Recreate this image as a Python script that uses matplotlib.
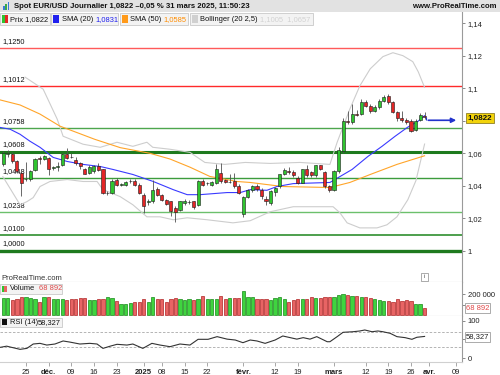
import numpy as np
import matplotlib.pyplot as plt
from matplotlib.patches import Rectangle

plt.rcParams['font.family'] = ['Liberation Sans', 'DejaVu Sans']

W, H = 500, 375

# daily candles EUR/USD, 18 nov. 2024 -> 31 mars 2025 (no candle on 25 dec. and 1 jan.)
opens = [1.0532, 1.0596, 1.0597, 1.0552, 1.0480, 1.0440, 1.0443, 1.0495, 1.0569, 1.0567,
         1.0573, 1.0507, 1.0518, 1.0526, 1.0594, 1.0580, 1.0560, 1.0538, 1.0505, 1.0480,
         1.0490, 1.0521, 1.0501, 1.0355, 1.0357, 1.0439, 1.0408, 1.0408, 1.0427, 1.0429,
         1.0408, 1.0346, 1.0300, 1.0305, 1.0382, 1.0346, 1.0315, 1.0305, 1.0266, 1.0254,
         1.0295, 1.0301, 1.0305, 1.0284, 1.0429, 1.0416, 1.0408, 1.0419, 1.0480, 1.0439,
         1.0421, 1.0429, 1.0402, 1.0229, 1.0332, 1.0377, 1.0402, 1.0377, 1.0320, 1.0295,
         1.0361, 1.0398, 1.0470, 1.0490, 1.0484, 1.0450, 1.0419, 1.0501, 1.0484, 1.0464,
         1.0526, 1.0484, 1.0398, 1.0377, 1.0490, 1.0614, 1.0798, 1.0790, 1.0841, 1.0841,
         1.0917, 1.0892, 1.0861, 1.0882, 1.0923, 1.0951, 1.0913, 1.0855, 1.0814, 1.0805,
         1.0800, 1.0744, 1.0806, 1.0828]
highs = [1.0612, 1.0620, 1.0610, 1.0560, 1.0490, 1.0544, 1.0495, 1.0570, 1.0585, 1.0590,
         1.0580, 1.0520, 1.0545, 1.0600, 1.0635, 1.0600, 1.0575, 1.0545, 1.0510, 1.0530,
         1.0530, 1.0540, 1.0505, 1.0370, 1.0445, 1.0450, 1.0420, 1.0430, 1.0445, 1.0440,
         1.0415, 1.0355, 1.0320, 1.0439, 1.0395, 1.0350, 1.0320, 1.0310, 1.0275, 1.0310,
         1.0320, 1.0315, 1.0310, 1.0435, 1.0440, 1.0425, 1.0430, 1.0532, 1.0542, 1.0445,
         1.0476, 1.0480, 1.0410, 1.0340, 1.0380, 1.0405, 1.0410, 1.0385, 1.0335, 1.0372,
         1.0395, 1.0475, 1.0510, 1.0515, 1.0500, 1.0460, 1.0505, 1.0530, 1.0490, 1.0530,
         1.0530, 1.0490, 1.0405, 1.0500, 1.0640, 1.0815, 1.0862, 1.0903, 1.0865, 1.0935,
         1.0929, 1.0900, 1.0895, 1.0935, 1.0959, 1.0965, 1.0920, 1.0860, 1.0860, 1.0815,
         1.0810, 1.0810, 1.0845, 1.0855]
lows = [1.0522, 1.0575, 1.0540, 1.0480, 1.0336, 1.0430, 1.0429, 1.0490, 1.0535, 1.0560,
        1.0464, 1.0500, 1.0490, 1.0520, 1.0565, 1.0570, 1.0530, 1.0505, 1.0470, 1.0475,
        1.0480, 1.0490, 1.0350, 1.0345, 1.0350, 1.0400, 1.0400, 1.0400, 1.0420, 1.0400,
        1.0350, 1.0233, 1.0285, 1.0295, 1.0340, 1.0305, 1.0285, 1.0216, 1.0181, 1.0245,
        1.0285, 1.0290, 1.0260, 1.0275, 1.0400, 1.0405, 1.0400, 1.0410, 1.0420, 1.0415,
        1.0415, 1.0390, 1.0350, 1.0208, 1.0325, 1.0365, 1.0370, 1.0320, 1.0284, 1.0285,
        1.0340, 1.0390, 1.0465, 1.0475, 1.0455, 1.0410, 1.0415, 1.0455, 1.0455, 1.0455,
        1.0495, 1.0390, 1.0360, 1.0370, 1.0480, 1.0605, 1.0779, 1.0780, 1.0830, 1.0835,
        1.0885, 1.0850, 1.0855, 1.0875, 1.0915, 1.0900, 1.0850, 1.0800, 1.0795, 1.0780,
        1.0730, 1.0735, 1.0800, 1.0810]
closes = [1.0604, 1.0600, 1.0552, 1.0490, 1.0419, 1.0445, 1.0490, 1.0567, 1.0565, 1.0583,
          1.0505, 1.0513, 1.0522, 1.0594, 1.0573, 1.0575, 1.0538, 1.0522, 1.0476, 1.0515,
          1.0521, 1.0496, 1.0357, 1.0359, 1.0429, 1.0408, 1.0410, 1.0425, 1.0430, 1.0408,
          1.0357, 1.0274, 1.0305, 1.0377, 1.0346, 1.0315, 1.0291, 1.0243, 1.0241, 1.0305,
          1.0309, 1.0303, 1.0270, 1.0429, 1.0408, 1.0420, 1.0424, 1.0501, 1.0429, 1.0423,
          1.0424, 1.0398, 1.0357, 1.0332, 1.0373, 1.0402, 1.0381, 1.0336, 1.0305, 1.0367,
          1.0388, 1.0470, 1.0497, 1.0486, 1.0464, 1.0419, 1.0501, 1.0464, 1.0464, 1.0526,
          1.0501, 1.0398, 1.0377, 1.0490, 1.0623, 1.0800, 1.0793, 1.0841, 1.0838, 1.0917,
          1.0892, 1.0861, 1.0882, 1.0923, 1.0944, 1.0913, 1.0855, 1.0814, 1.0804, 1.0790,
          1.0738, 1.0800, 1.0835, 1.0822]
# volume in thousands
volumes = [164, 164, 148, 157, 173, 173, 164, 157, 125, 173, 173, 154, 154, 154, 148, 157,
           154, 164, 164, 148, 148, 154, 157, 173, 164, 138, 110, 110, 122, 132, 132, 154,
           125, 173, 154, 154, 125, 154, 164, 154, 148, 154, 148, 157, 186, 157, 157, 157,
           186, 157, 164, 170, 164, 236, 173, 173, 157, 157, 157, 148, 164, 173, 154, 125,
           148, 157, 157, 157, 173, 164, 164, 173, 173, 173, 195, 205, 192, 186, 186, 179,
           173, 170, 154, 148, 138, 138, 125, 154, 138, 148, 141, 110, 110, 68.892]

# indicator lines (x = candle index)
sma20_x = [-0.7, 1.5, 3.7, 5.9, 8.1, 11.0, 14.1, 17.6, 21.4, 24.2, 28.6, 33.1, 37.5, 40.6, 43.4,
           49.4, 52.3, 54.5, 58.2, 60.4, 64.0, 72.1, 73.2, 77.0, 80.5, 83.6, 86.5, 89.3, 91.6, 93.0]
sma20_v = [1.0759, 1.0748, 1.0717, 1.0674, 1.0637, 1.0575, 1.0550, 1.0532, 1.0519, 1.0501,
           1.0470, 1.0427, 1.0377, 1.0346, 1.0346, 1.0359, 1.0359, 1.0377, 1.0373, 1.0396,
           1.0414, 1.0421, 1.0439, 1.0501, 1.0581, 1.0643, 1.0705, 1.0761, 1.0798, 1.0831]
sma50_x = [-0.7, 3.7, 8.1, 12.5, 20.2, 25.8, 32.4, 36.8, 41.2, 45.6, 51.6, 54.5, 61.7, 72.1,
           76.5, 81.0, 86.9, 93.0]
sma50_v = [1.0928, 1.0897, 1.0841, 1.0767, 1.0686, 1.0635, 1.0600, 1.0565, 1.0515, 1.0458,
           1.0427, 1.0421, 1.0396, 1.0390, 1.0421, 1.0470, 1.0532, 1.0585]
bb_up_x = [4.8, 8.8, 11.9, 13.2, 17.6, 21.4, 25.1, 28.6, 31.7, 33.0, 36.8, 41.2, 44.5, 48.9,
           53.4, 58.9, 65.5, 72.1, 73.7, 76.5, 78.7, 81.0, 83.8, 86.0, 88.2, 90.4, 91.6, 93.0]
bb_up_v = [1.1068, 1.0994, 1.0810, 1.0705, 1.0656, 1.0637, 1.0668, 1.0643, 1.0668, 1.0637,
           1.0625, 1.0606, 1.0544, 1.0532, 1.0544, 1.0538, 1.0544, 1.0532, 1.0668, 1.0872,
           1.1014, 1.1119, 1.1194, 1.1218, 1.1200, 1.1163, 1.1101, 1.1005]
bb_lo_x = [-0.1, 3.7, 5.2, 6.6, 8.1, 10.3, 14.1, 17.6, 20.7, 22.0, 25.8, 28.6, 31.7, 34.6,
           37.5, 40.6, 45.0, 50.7, 54.5, 58.9, 64.0, 72.8, 74.3, 75.9, 78.7, 82.5, 84.7, 86.9,
           89.3, 91.1, 93.0]
bb_lo_v = [1.0457, 1.0284, 1.0303, 1.0328, 1.0396, 1.0427, 1.0439, 1.0427, 1.0427, 1.0377,
           1.0334, 1.0284, 1.0210, 1.0210, 1.0192, 1.0204, 1.0192, 1.0173, 1.0186, 1.0241,
           1.0272, 1.0272, 1.0235, 1.0173, 1.0142, 1.0142, 1.0161, 1.0210, 1.0315, 1.0433, 1.0657]
rsi_x = [-0.7, 0.75, 2.1, 3.7, 5.2, 6.6, 8.1, 9.6, 11.4, 13.2, 14.7, 16.9, 19.1, 20.7, 22.0,
         23.6, 25.1, 27.3, 28.6, 30.8, 32.8, 34.6, 36.8, 39.0, 41.2, 43.0, 45.2, 47.2, 49.4,
         51.2, 52.9, 54.5, 56.0, 57.8, 60.0, 61.7, 64.8, 66.2, 67.7, 69.2, 71.5, 72.1, 73.7,
         75.0, 77.2, 78.7, 79.8, 81.4, 82.7, 83.8, 85.4, 86.9, 88.7, 90.2, 91.3, 93.0]
rsi_v = [28.8, 32, 28, 23.4, 26, 37.8, 39.6, 35, 37.8, 46, 43, 37.8, 39.6, 37.8, 26,
         32, 37, 35, 37.8, 26, 39.6, 35, 30.6, 37.8, 35, 50.5, 50.5, 57.7, 51,
         48.6, 41.4, 48.6, 46, 39.6, 48.6, 59.5, 51, 55, 51, 57.7, 44, 44, 57.7,
         69.4, 71, 73, 75.7, 71, 73, 71, 66.7, 57.7, 55, 50.5, 56, 58.3]

# support / resistance lines
levels = [1.1250, 1.1012, 1.0758, 1.0608, 1.0448, 1.0238, 1.0100, 1.0000]
level_labels = ['1,1250', '1,1012', '1,0758', '1,0608', '1,0448', '1,0238', '1,0100', '1,0000']
level_colors = ['#ff5a5a', '#ff2a2a', '#4da64d', '#1e7a1e', '#3c9c3c', '#6cc06c', '#2f8f2f', '#1e7a1e']
level_widths = [1.0, 1.0, 1.0, 2.2, 1.0, 1.0, 1.2, 2.4]

# right scale (labels hidden behind the last-value boxes are left blank)
price_ticks = [1.0, 1.02, 1.04, 1.06, 1.08, 1.1, 1.12, 1.14]
price_ticklabels = ['1', '1,02', '1,04', '1,06', '', '1,1', '1,12', '1,14']
vol_ticks = [100, 200]
vol_ticklabels = ['', '200 000']
rsi_ticks = [0, 50, 100]
rsi_ticklabels = ['0', '', '100']
date_pos = [5, 10, 15, 20, 25, 31, 35, 40, 45, 53, 60, 65, 73, 80, 85, 90, 94, 100]
date_labels = ['25', 'déc.', '09', '16', '23', '2025', '08', '15', '22', 'févr.', '12', '19',
               'mars', '12', '19', '26', 'avr.', '09']
bold_dates = ['déc.', '2025', 'févr.', 'mars', 'avr.']


def fx(x):
    return x / W


def fy(y):
    return 1 - y / H


def pbox(x0, y0, x1, y1):
    # pixel box (origin top-left) -> figure fraction
    return [x0 / W, 1 - y1 / H, (x1 - x0) / W, (y1 - y0) / H]


fig = plt.figure(figsize=(5, 3.75), dpi=100)


def frect(x0, y0, x1, y1, **kw):
    fig.add_artist(Rectangle((fx(x0), fy(y1)), (x1 - x0) / W, (y1 - y0) / H,
                             transform=fig.transFigure, **kw))


ax = fig.add_axes(pbox(0, 12, 462, 282))
axv = fig.add_axes(pbox(0, 282, 462, 316))
axr = fig.add_axes(pbox(0, 316, 462, 362))

xlim = (-0.73, 101.26)
for a in (ax, axv, axr):
    a.set_xlim(*xlim)
    a.set_facecolor('white')
    for s in ('top', 'left'):
        a.spines[s].set_visible(False)
    a.spines['right'].set_color('#9a9a9a')
    a.spines['bottom'].set_color('#b4b4b4')
    a.spines['right'].set_linewidth(0.8)
    a.spines['bottom'].set_linewidth(0.8)
    a.yaxis.tick_right()
    a.tick_params(axis='y', labelsize=5.5, length=2.5, width=0.6, color='#777777',
                  pad=1.5, labelcolor='#222222')
    a.tick_params(axis='x', bottom=False, labelbottom=False)

# ---- price panel
ax.set_ylim(0.98096, 1.14681)
ax.set_yticks(price_ticks)
ax.set_yticklabels(price_ticklabels)

for lv, lab, c, lw in zip(levels, level_labels, level_colors, level_widths):
    ax.axhline(lv, color=c, lw=lw, zorder=1)
    ax.annotate(lab, (-0.3, lv), xytext=(0, 1.6 + lw / 2), textcoords='offset points',
                fontsize=5.3, color='#111111', ha='left', va='bottom', zorder=2)

ax.plot(bb_up_x, bb_up_v, color='#cdcdcd', lw=0.8, zorder=2)
ax.plot(bb_lo_x, bb_lo_v, color='#cdcdcd', lw=0.8, zorder=2)
ax.plot(sma50_x, sma50_v, color='#ffa52a', lw=0.8, zorder=2)
ax.plot(sma20_x, sma20_v, color='#3a3aff', lw=0.8, zorder=2)

for i in range(len(closes)):
    o, h, l, c = opens[i], highs[i], lows[i], closes[i]
    up = c >= o
    ax.vlines(i, l, h, color='#505050', lw=0.6, zorder=3)
    lo = min(o, c)
    hgt = max(abs(c - o), 0.00025)
    ax.add_patch(Rectangle((i - 0.34, lo), 0.68, hgt,
                           facecolor='#2fc42f' if up else '#e32626',
                           edgecolor='#1a1a1a', lw=0.4, zorder=4))

ax.vlines(93.25, 1.0802, 1.0822, color='#2233cc', lw=0.8, zorder=5)
ax.annotate('', xy=(100.6, 1.0803), xytext=(93.2, 1.0803),
            arrowprops=dict(arrowstyle='-|>', color='#2233cc', lw=1.2, mutation_scale=7),
            annotation_clip=False, zorder=5)

# ---- volume panel
axv.set_ylim(-4.8, 319)
vcol = ['#3fd43f' if c >= o else '#e86464' for o, c in zip(opens, closes)]
vedge = ['#178a17' if c >= o else '#b02424' for o, c in zip(opens, closes)]
axv.bar(range(len(volumes)), volumes, width=0.72, color=vcol, edgecolor=vedge, lw=0.5, zorder=2)
axv.set_yticks(vol_ticks)
axv.set_yticklabels(vol_ticklabels)

# ---- RSI panel
axr.set_ylim(-10.8, 113.5)
axr.axhline(70, color='#a8a8a8', lw=0.6, ls=(0, (3, 2)), zorder=1)
axr.axhline(30, color='#a8a8a8', lw=0.6, ls=(0, (3, 2)), zorder=1)
axr.plot(rsi_x, rsi_v, color='#333333', lw=0.8, zorder=2)
axr.set_yticks(rsi_ticks)
axr.set_yticklabels(rsi_ticklabels)
axr.spines['bottom'].set_color('#d0d0d0')
axr.tick_params(axis='x', bottom=True, labelbottom=True, length=3, width=0.6,
                color='#999999', labelsize=5.5, pad=2, labelcolor='#222222')
axr.set_xticks(date_pos)
axr.set_xticklabels(date_labels)
for t in axr.get_xticklabels():
    if t.get_text() in bold_dates:
        t.set_fontweight('bold')

# ---- header bar
frect(0, 0, 500, 12, facecolor='#e2e2e2', edgecolor='none', zorder=5)
frect(0, 11.5, 500, 12.3, facecolor='#bdbdbd', edgecolor='none', zorder=5)
for j, (hh, cc) in enumerate([(4, '#3a7ad8'), (6, '#39a94a'), (8, '#3a7ad8')]):
    frect(3 + j * 2.4, 10 - hh, 4.6 + j * 2.4, 10, facecolor=cc, edgecolor='none', zorder=6)
fig.text(fx(14), fy(6.5), 'Spot EUR/USD Journalier 1,0822 \u20130,05 % 31 mars 2025, 11:50:23',
         fontsize=5.6, weight='bold', color='#111111', va='center', ha='left', zorder=7)
fig.text(fx(497), fy(6.5), 'www.ProRealTime.com', fontsize=5.6, weight='bold',
         color='#111111', va='center', ha='right', zorder=7)

# legend row
leg_boxes = [(0, 50), (51, 118), (120, 188), (190, 313)]
for x0, x1 in leg_boxes:
    frect(x0, 13, x1, 25, facecolor='#f3f3f3', edgecolor='#c9c9c9', lw=0.6, zorder=5)
frect(1.5, 15.5, 4.5, 22.5, facecolor='#2fc42f', edgecolor='none', zorder=6)
frect(4.5, 15.5, 7.5, 22.5, facecolor='#e32626', edgecolor='none', zorder=6)
frect(52.5, 15.5, 58.5, 22.5, facecolor='#2020ee', edgecolor='none', zorder=6)
frect(121.5, 15.5, 127.5, 22.5, facecolor='#ff9a1a', edgecolor='none', zorder=6)
frect(191.5, 15.5, 197.5, 22.5, facecolor='#d0d0d0', edgecolor='none', zorder=6)
leg_y = fy(19.3)
fig.text(fx(10), leg_y, 'Prix 1,0822', fontsize=5.4, color='#111111', va='center', zorder=7)
fig.text(fx(61.5), leg_y, 'SMA (20)', fontsize=5.4, color='#111111', va='center', zorder=7)
fig.text(fx(95), leg_y, '1,0831', fontsize=5.4, color='#2020ee', va='center', zorder=7)
fig.text(fx(130.5), leg_y, 'SMA (50)', fontsize=5.4, color='#111111', va='center', zorder=7)
fig.text(fx(163.5), leg_y, '1,0585', fontsize=5.4, color='#ff8c00', va='center', zorder=7)
fig.text(fx(200), leg_y, 'Bollinger (20 2,5)', fontsize=5.4, color='#111111', va='center', zorder=7)
fig.text(fx(260), leg_y, '1,1005  1,0657', fontsize=5.4, color='#d2d2d2', va='center', zorder=7)

# last value boxes on the right scale
fig.text(fx(480), fy(118.3), '1,0822', fontsize=5.8, weight='bold', color='#111111',
         ha='center', va='center', zorder=8,
         bbox=dict(boxstyle='square,pad=0.2', fc='#f2d30a', ec='#7a6a10', lw=0.5))
fig.text(fx(477.5), fy(308), '68 892', fontsize=5.5, color='#e04848', ha='center', va='center',
         zorder=8, bbox=dict(boxstyle='square,pad=0.15', fc='white', ec='#8a8a8a', lw=0.5))
fig.text(fx(477.5), fy(337), '58,327', fontsize=5.5, color='#222222', ha='center', va='center',
         zorder=8, bbox=dict(boxstyle='square,pad=0.15', fc='white', ec='#8a8a8a', lw=0.5))

# panel captions
fig.text(fx(1), fy(278.5), 'ProRealTime.com', fontsize=5.5, color='#333333', va='center', zorder=7)
frect(421, 273, 428, 281, facecolor='white', edgecolor='#8a8a8a', lw=0.5, zorder=7)
fig.text(fx(424.5), fy(277), 'i', fontsize=4.5, color='#555555', ha='center', va='center', zorder=8)

frect(0, 283.5, 62, 294, facecolor='#f3f3f3', edgecolor='#c9c9c9', lw=0.6, zorder=5)
frect(1.5, 285.5, 3.8, 292, facecolor='#2fc42f', edgecolor='none', zorder=6)
frect(3.8, 285.5, 6.5, 292, facecolor='#e86464', edgecolor='none', zorder=6)
fig.text(fx(10), fy(288.8), 'Volume', fontsize=5.4, color='#111111', va='center', zorder=7)
fig.text(fx(39), fy(288.8), '68 892', fontsize=5.4, color='#e04848', va='center', zorder=7)

frect(0, 317.5, 62, 327, facecolor='#f3f3f3', edgecolor='#c9c9c9', lw=0.6, zorder=5)
frect(1.5, 319, 6.5, 325, facecolor='#111111', edgecolor='none', zorder=6)
fig.text(fx(10), fy(322.3), 'RSI (14)', fontsize=5.4, color='#111111', va='center', zorder=7)
fig.text(fx(37.5), fy(322.3), '58,327', fontsize=5.4, color='#111111', va='center', zorder=7)

fig.savefig('out.png', dpi=100, facecolor='white')
